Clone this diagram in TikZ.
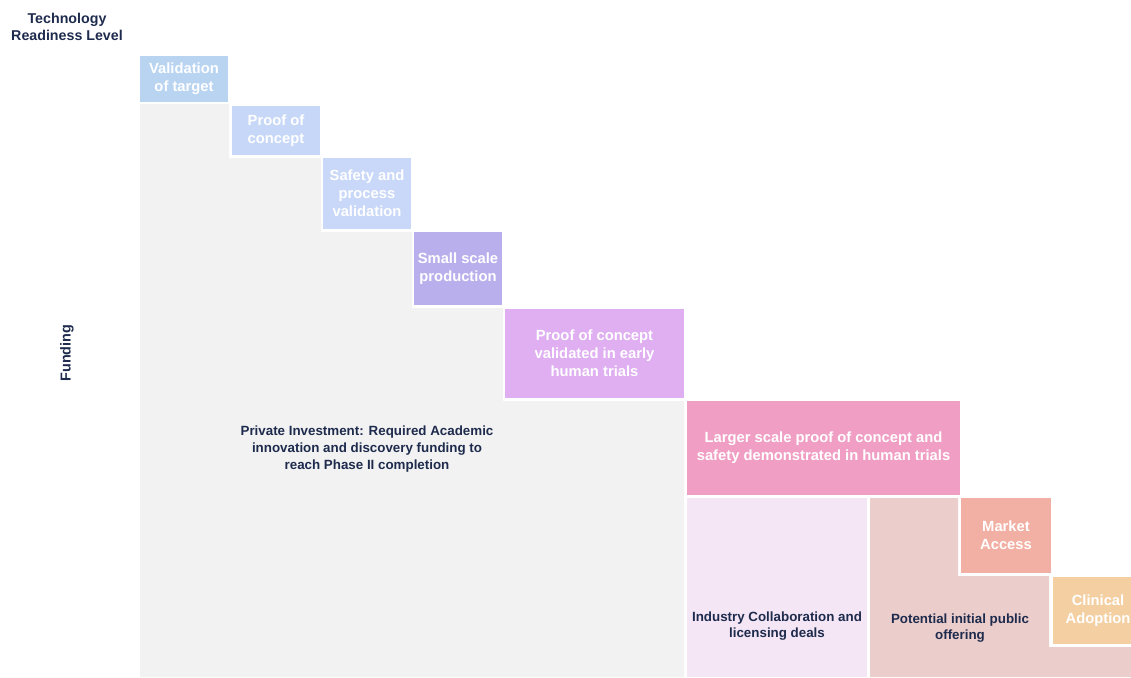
\documentclass[tikz,border=0pt]{standalone}
\usepackage{fontspec}
\setmainfont{Liberation Sans}
\definecolor{navy}{HTML}{1E2B4D}
\definecolor{greybg}{HTML}{F2F2F2}
\definecolor{trlone}{HTML}{B9D4F1}
\definecolor{trltwo}{HTML}{C7D7F8}
\definecolor{trlthree}{HTML}{C9D8F8}
\definecolor{trlfour}{HTML}{B9AFEC}
\definecolor{trlfive}{HTML}{DFAFF1}
\definecolor{trlsix}{HTML}{F09EC4}
\definecolor{marketc}{HTML}{F2AFA3}
\definecolor{clinicc}{HTML}{F4CFA2}
\definecolor{industryc}{HTML}{F4E6F5}
\definecolor{ipoc}{HTML}{EBCDCC}
\begin{document}
\begin{tikzpicture}[x=0.02cm, y=-0.02cm,
  stage/.style={rectangle, inner sep=0pt, text=white, align=center,
    font=\bfseries\fontsize{8.4}{10.2}\selectfont},
  note/.style={align=center, text=navy,
    font=\bfseries\fontsize{7.6}{9.5}\selectfont}]
  \useasboundingbox (0,0) rectangle (1131,677);
  \fill[greybg] (140,104) -- (229,104) -- (229,158) -- (321,158) -- (321,232)
    -- (412,232) -- (412,308) -- (503,308) -- (503,401) -- (684,401)
    -- (684,677) -- (140,677) -- cycle;
  \fill[ipoc] (870,498) -- (958,498) -- (958,576) -- (1049,576) -- (1049,647)
    -- (1131,647) -- (1131,677) -- (870,677) -- cycle;
  \node[note, font=\bfseries\fontsize{8.1}{10}\selectfont] (trl) at (67,27)
    {Technology\\Readiness Level};
  \node[note, font=\bfseries\fontsize{8.2}{10}\selectfont, rotate=90] (funding)
    at (67,353) {Funding};
  \node[stage, fill=trlone, minimum width=1.76cm, minimum height=0.92cm]
    (target) at (184,79) {Validation\\of target};
  \node[stage, fill=trltwo, minimum width=1.76cm, minimum height=0.98cm]
    (concept) at (276,130.5) {Proof of\\concept};
  \node[stage, fill=trlthree, minimum width=1.76cm, minimum height=1.42cm]
    (safety) at (367,193.5) {Safety and\\process\\validation};
  \node[stage, fill=trlfour, minimum width=1.76cm, minimum height=1.46cm]
    (small) at (458,268.5) {Small scale\\production};
  \node[stage, fill=trlfive, minimum width=3.58cm, minimum height=1.78cm]
    (early) at (594.5,353.5) {Proof of concept\\validated in early\\human trials};
  \node[stage, fill=trlsix, minimum width=5.46cm, minimum height=1.88cm]
    (larger) at (823.5,448) {Larger scale proof of concept and\\safety demonstrated in human trials};
  \node[stage, fill=marketc, minimum width=1.8cm, minimum height=1.5cm]
    (market) at (1006,535.5) {Market\\Access};
  \node[stage, fill=clinicc, minimum width=1.8cm, minimum height=1.34cm]
    (clinical) at (1098,610.5) {Clinical\\Adoption};
  \node[stage, fill=industryc, minimum width=3.6cm, minimum height=3.58cm]
    (industry) at (777,587.5) {};
  \node[note] (private) at (367,449)
    {Private Investment: Required Academic\\innovation and discovery funding to\\reach Phase II completion};
  \node[note] (deals) at (777,626) {Industry Collaboration and\\licensing deals};
  \node[note] (ipo) at (960,628) {Potential initial public\\offering};
\end{tikzpicture}
\end{document}
